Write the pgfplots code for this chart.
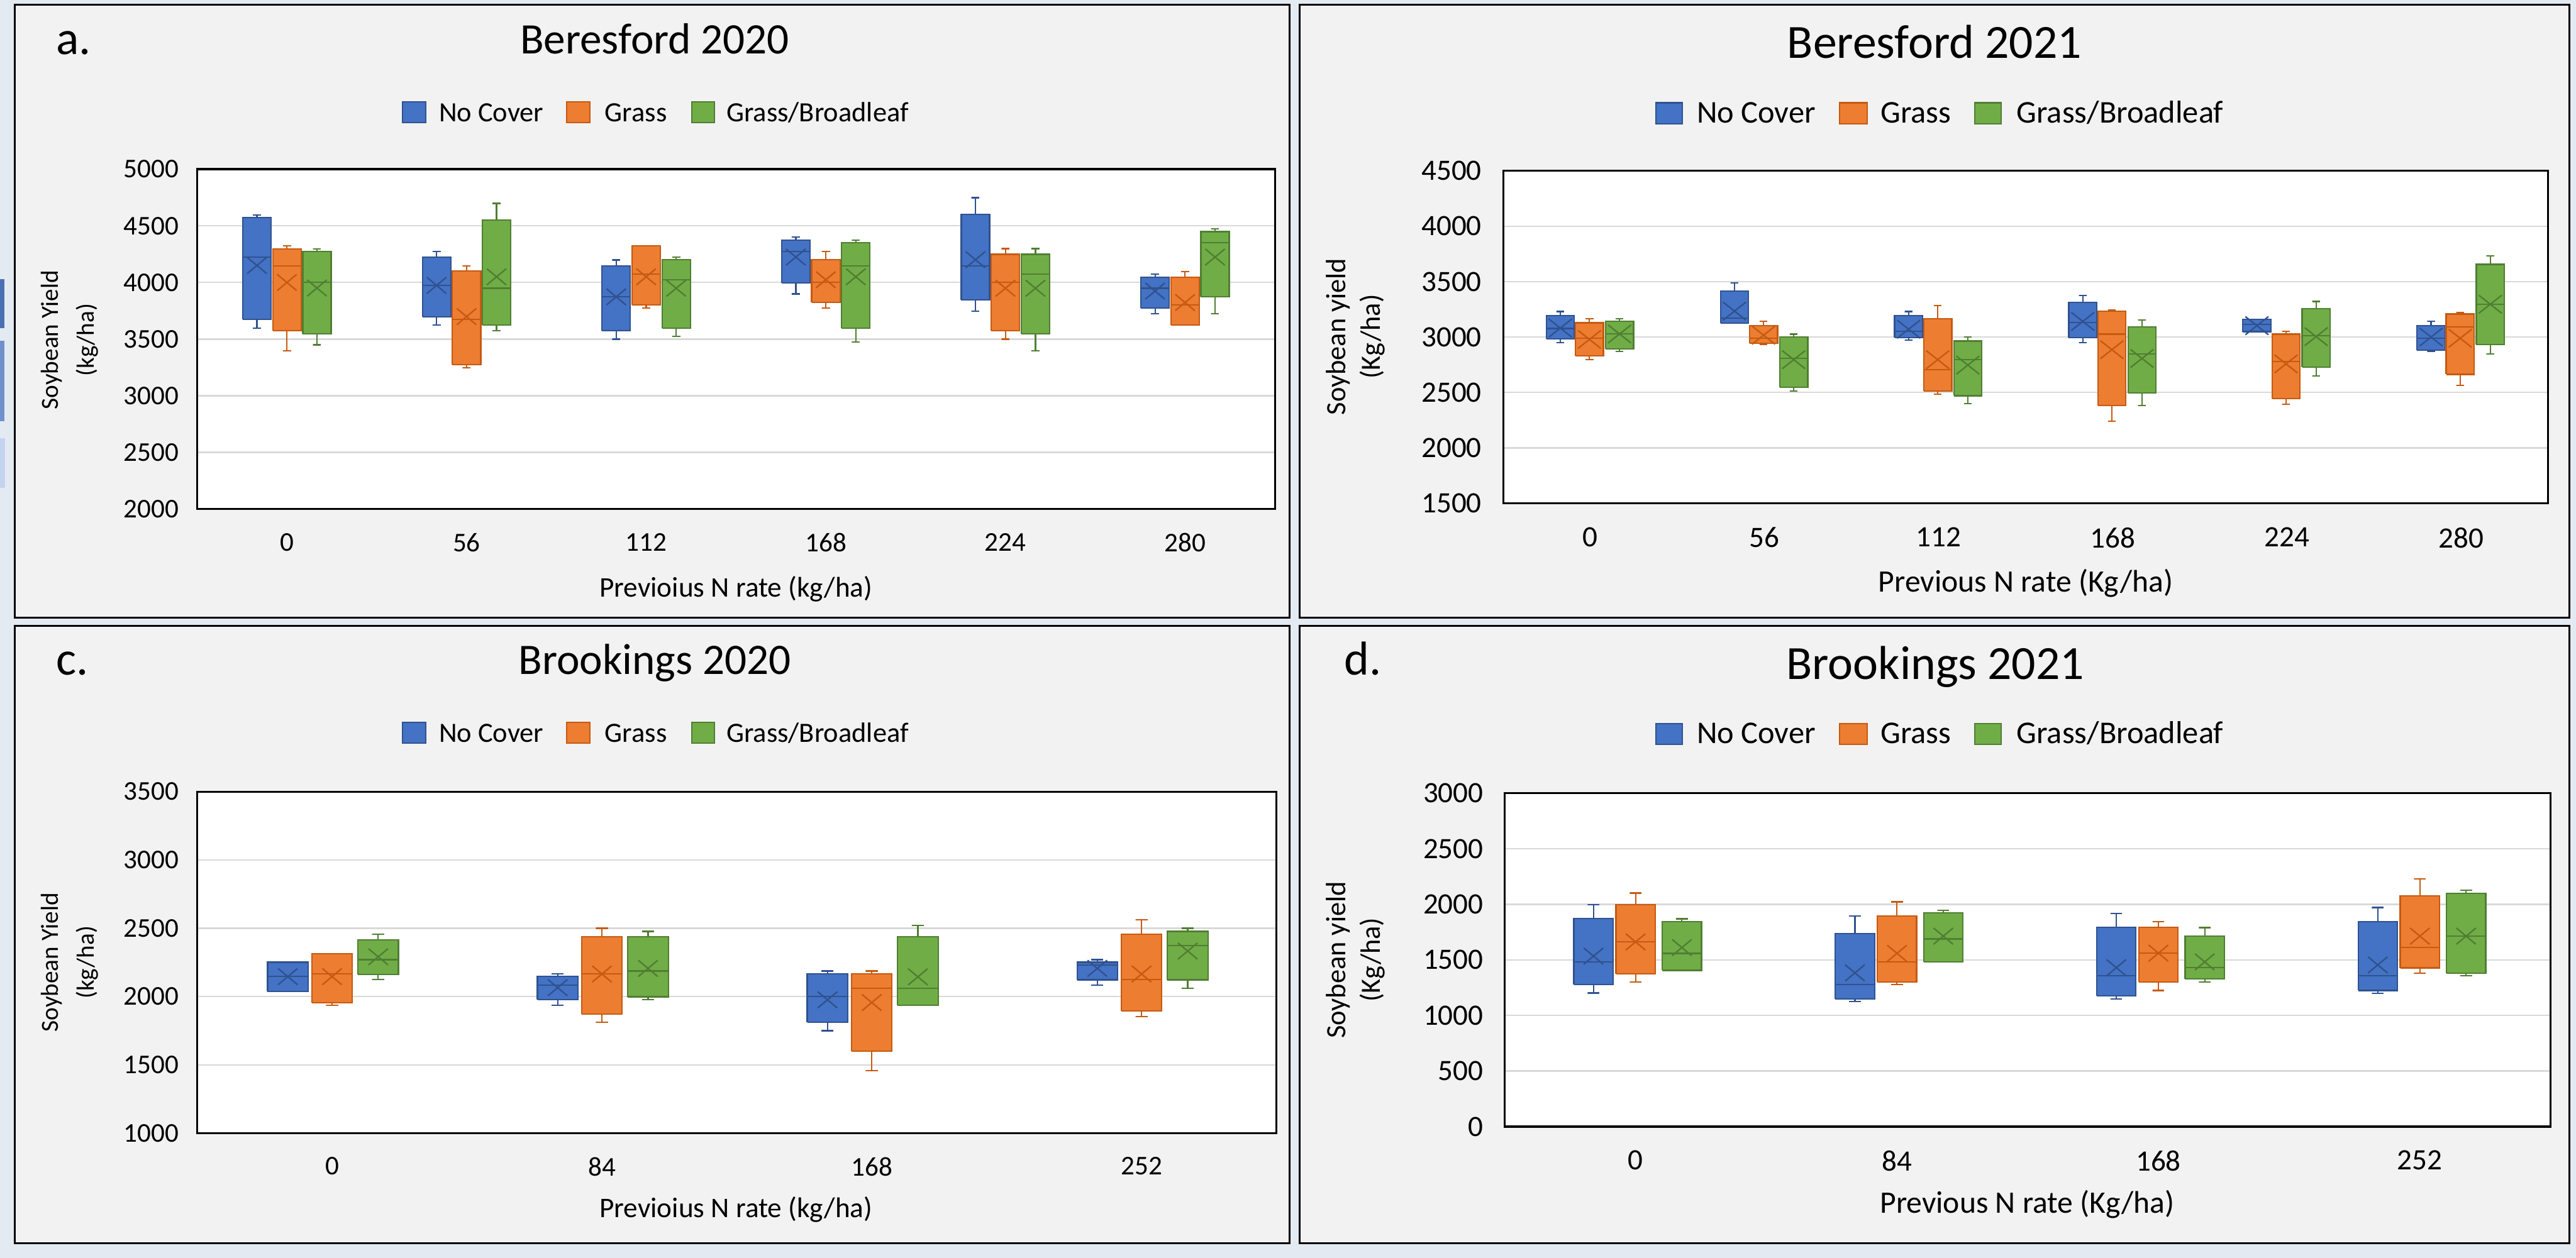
\documentclass[border=0pt]{standalone}
\usepackage{pgfplots}
\pgfplotsset{compat=1.18}
\usepackage{fontspec}
\setmainfont{Carlito}
\definecolor{ncF}{HTML}{4472C4}\definecolor{ncD}{HTML}{2F528F}
\definecolor{grF}{HTML}{ED7D31}\definecolor{grD}{HTML}{C55A11}
\definecolor{gbF}{HTML}{70AD47}\definecolor{gbD}{HTML}{507E32}
\definecolor{outer}{HTML}{E4EAF2}\definecolor{panel}{HTML}{F2F2F2}
\definecolor{gridg}{HTML}{D9D9D9}
\definecolor{sA}{HTML}{4A6FB5}\definecolor{sB}{HTML}{7090CC}\definecolor{sC}{HTML}{C5D3EE}
% box: #1 style, #2 position, #3 lower whisker, #4 lower quartile, #5 median, #6 upper quartile, #7 upper whisker
\newcommand\bp[7]{%
 \pgfmathsetmacro\xa{#2-\bw/2}\pgfmathsetmacro\xb{#2+\bw/2}%
 \pgfmathsetmacro\ca{#2-0.0225}\pgfmathsetmacro\cb{#2+0.0225}%
 \edef\tmp{%
  \noexpand\addplot[#1,fill=none] coordinates {(#2,#6) (#2,#7) (\ca,#7) (\cb,#7)};
  \noexpand\addplot[#1,fill=none] coordinates {(#2,#4) (#2,#3) (\ca,#3) (\cb,#3)};
  \noexpand\addplot[#1] coordinates {(\xa,#4) (\xb,#4) (\xb,#6) (\xa,#6) (\xa,#4)};
  \noexpand\addplot[#1,fill=none] coordinates {(\xa,#5) (\xb,#5)};
 }\tmp}
\pgfplotsset{
  nc/.style={draw=ncD,fill=ncF,line width=0.85pt,mark=none,line join=miter},
  gr/.style={draw=grD,fill=grF,line width=0.85pt,mark=none,line join=miter},
  gb/.style={draw=gbD,fill=gbF,line width=0.85pt,mark=none,line join=miter},
  mnc/.style={only marks,mark=x,mark size=7pt,mark options={draw=ncD,line width=0.9pt,xscale=1.2}},
  mgr/.style={only marks,mark=x,mark size=7pt,mark options={draw=grD,line width=0.9pt,xscale=1.2}},
  mgb/.style={only marks,mark=x,mark size=7pt,mark options={draw=gbD,line width=0.9pt,xscale=1.2}},
  mncb/.style={only marks,mark=x,mark size=7.8pt,mark options={draw=ncD,line width=0.9pt,xscale=1.27}},
  mgrb/.style={only marks,mark=x,mark size=7.8pt,mark options={draw=grD,line width=0.9pt,xscale=1.27}},
  mgbb/.style={only marks,mark=x,mark size=7.8pt,mark options={draw=gbD,line width=0.9pt,xscale=1.27}},
  panel/.style={scale only axis,anchor=south west,
    axis line style={black,line width=1.2pt},
    ymajorgrids,grid style={gridg,line width=0.9pt},
    major tick length=0pt,
    axis background/.style={fill=white},
    /pgf/number format/assume math mode=true,
    /pgf/number format/1000 sep={},
    scaled y ticks=false,
    yticklabel style={inner sep=0pt,xshift=-11pt},
    xticklabel style={inner sep=0pt,yshift=-14.5pt}},
}
\begin{document}
\begin{tikzpicture}
\useasboundingbox (0pt,0pt) rectangle (1568pt,766pt);
\begin{scope}[x=1pt,y=1pt]
\fill[outer] (0,0) rectangle (1568,766);
\fill[sA] (0,566) rectangle (2.5,596);
\fill[sB] (0,509.4) rectangle (2.5,558.4);
\fill[sC] (0,469) rectangle (3,499.3);
\filldraw[fill=panel,draw=black,line width=1.2pt] (9,390) rectangle (785,763);
\filldraw[fill=panel,draw=black,line width=1.2pt] (791,390) rectangle (1564,763);
\filldraw[fill=panel,draw=black,line width=1.2pt] (9,9) rectangle (785,385);
\filldraw[fill=panel,draw=black,line width=1.2pt] (791,9) rectangle (1564,385);
\end{scope}

% ---------- panel a ----------
\def\bw{0.158}
\begin{axis}[panel,at={(120pt,456pt)},width=656pt,height=207pt,
  xmin=-0.5,xmax=5.5,ymin=2000,ymax=5000,ytick={2000,2500,3000,3500,4000,4500,5000},
  xtick={0,1,2,3,4,5},xticklabels={0,56,112,168,224,280},
  tick label style={font=\fontsize{16.5}{19}\selectfont}]
\bp{nc}{-0.167}{3598}{3674}{4224}{4574}{4597}
\bp{gr}{0}{3397}{3573}{4148}{4297}{4324}
\bp{gb}{0.167}{3450}{3548}{4000}{4274}{4297}
\bp{nc}{0.833}{3624}{3697}{3974}{4224}{4274}
\bp{gr}{1}{3248}{3273}{3674}{4100}{4148}
\bp{gb}{1.167}{3573}{3624}{3949}{4551}{4698}
\bp{nc}{1.833}{3500}{3573}{3873}{4148}{4199}
\bp{gr}{2}{3773}{3800}{4075}{4324}{4324}
\bp{gb}{2.167}{3523}{3598}{4024}{4201}{4224}
\bp{nc}{2.833}{3899}{3997}{4274}{4375}{4400}
\bp{gr}{3}{3773}{3823}{4000}{4201}{4274}
\bp{gb}{3.167}{3473}{3598}{4148}{4350}{4375}
\bp{nc}{3.833}{3748}{3848}{4148}{4599}{4748}
\bp{gr}{4}{3500}{3573}{4000}{4249}{4299}
\bp{gb}{4.167}{3399}{3548}{4075}{4249}{4299}
\bp{nc}{4.833}{3724}{3773}{3949}{4047}{4073}
\bp{gr}{5}{3624}{3624}{3800}{4047}{4098}
\bp{gb}{5.167}{3724}{3873}{4350}{4448}{4473}
\addplot[mnc] coordinates {(-0.167,4150) (0.833,3974) (1.833,3873) (2.833,4224) (3.833,4201) (4.833,3924)};
\addplot[mgr] coordinates {(0,4000) (1,3699) (2,4050) (3,4024) (4,3949) (5,3823)};
\addplot[mgb] coordinates {(0.167,3951) (1.167,4050) (2.167,3949) (3.167,4050) (4.167,3949) (5.167,4224)};
\end{axis}

% ---------- panel b ----------
\def\bw{0.161}
\begin{axis}[panel,at={(915pt,459.5pt)},width=636pt,height=202.5pt,
  xmin=-0.5,xmax=5.5,ymin=1500,ymax=4500,ytick={1500,2000,2500,3000,3500,4000,4500},
  xtick={0,1,2,3,4,5},xticklabels={0,56,112,168,224,280},
  tick label style={font=\fontsize{18}{21}\selectfont},
  yticklabel style={xshift=-2pt}]
\bp{nc}{-0.172}{2951}{2985}{3077}{3195}{3231}
\bp{gr}{-0.005}{2796}{2831}{2989}{3129}{3167}
\bp{gb}{0.168}{2871}{2893}{3028}{3141}{3167}
\bp{nc}{0.828}{3124}{3124}{3169}{3414}{3489}
\bp{gr}{0.995}{2934}{2946}{2989}{3105}{3141}
\bp{gb}{1.168}{2511}{2548}{2807}{3000}{3026}
\bp{nc}{1.828}{2974}{2996}{3051}{3195}{3231}
\bp{gr}{1.995}{2486}{2511}{2706}{3167}{3283}
\bp{gb}{2.168}{2398}{2471}{2796}{2964}{3000}
\bp{nc}{2.828}{2949}{2996}{3131}{3311}{3373}
\bp{gr}{2.995}{2241}{2383}{3026}{3234}{3246}
\bp{gb}{3.168}{2383}{2496}{2846}{3092}{3156}
\bp{nc}{3.828}{3049}{3049}{3114}{3159}{3159}
\bp{gr}{3.995}{2396}{2445}{2781}{3026}{3051}
\bp{gb}{4.168}{2651}{2730}{3011}{3257}{3321}
\bp{nc}{4.828}{2869}{2880}{2989}{3105}{3141}
\bp{gr}{4.995}{2563}{2664}{3090}{3208}{3221}
\bp{gb}{5.168}{2846}{2931}{3296}{3656}{3733}
\addplot[mncb] coordinates {(-0.172,3081) (0.828,3234) (1.828,3071) (2.828,3141) (3.828,3103) (4.828,3000)};
\addplot[mgrb] coordinates {(-0.005,2979) (0.995,3017) (1.995,2796) (2.995,2886) (3.995,2758) (4.995,2989)};
\addplot[mgbb] coordinates {(0.168,3028) (1.168,2796) (2.168,2747) (3.168,2807) (4.168,3004) (5.168,3296)};
\end{axis}

% ---------- panel c ----------
\def\bw{0.15}
\begin{axis}[panel,at={(120pt,76pt)},width=657pt,height=208pt,
  xmin=-0.5,xmax=3.5,ymin=1000,ymax=3500,ytick={1000,1500,2000,2500,3000,3500},
  xtick={0,1,2,3},xticklabels={0,84,168,252},
  tick label style={font=\fontsize{16.5}{19}\selectfont}]
\bp{nc}{-0.164}{2039}{2039}{2146}{2251}{2251}
\bp{gr}{0}{1937}{1956}{2165}{2313}{2313}
\bp{gb}{0.171}{2124}{2161}{2270}{2416}{2457}
\bp{nc}{0.836}{1937}{1976}{2083}{2146}{2165}
\bp{gr}{1}{1811}{1873}{2165}{2438}{2500}
\bp{gb}{1.171}{1976}{1998}{2187}{2438}{2477}
\bp{nc}{1.836}{1750}{1811}{2000}{2165}{2187}
\bp{gr}{2}{1456}{1602}{2061}{2165}{2187}
\bp{gb}{2.171}{1937}{1937}{2061}{2437}{2520}
\bp{nc}{2.836}{2083}{2122}{2229}{2251}{2270}
\bp{gr}{3}{1852}{1895}{2124}{2457}{2562}
\bp{gb}{3.171}{2061}{2122}{2375}{2477}{2500}
\addplot[mnc] coordinates {(-0.164,2146) (0.836,2065) (1.836,1976) (2.836,2206)};
\addplot[mgr] coordinates {(0,2146) (1,2165) (2,1956) (3,2165)};
\addplot[mgb] coordinates {(0.171,2291) (1.171,2206) (2.171,2144) (3.171,2333)};
\end{axis}

% ---------- panel d ----------
\def\bw{0.15}
\begin{axis}[panel,at={(916pt,80pt)},width=636.5pt,height=203pt,
  xmin=-0.5,xmax=3.5,ymin=0,ymax=3000,ytick={0,500,1000,1500,2000,2500,3000},
  xtick={0,1,2,3},xticklabels={0,84,168,252},
  tick label style={font=\fontsize{18}{21}\selectfont},
  yticklabel style={xshift=-2pt}]
\bp{nc}{-0.161}{1202}{1277}{1484}{1874}{1998}
\bp{gr}{0}{1302}{1376}{1662}{1998}{2102}
\bp{gb}{0.177}{1406}{1406}{1559}{1845}{1870}
\bp{nc}{0.839}{1124}{1148}{1279}{1739}{1895}
\bp{gr}{1}{1277}{1302}{1484}{1895}{2023}
\bp{gb}{1.177}{1484}{1484}{1689}{1922}{1947}
\bp{nc}{1.839}{1148}{1175}{1356}{1793}{1920}
\bp{gr}{2}{1225}{1302}{1561}{1793}{1843}
\bp{gb}{2.177}{1302}{1329}{1430}{1714}{1791}
\bp{nc}{2.839}{1200}{1225}{1356}{1845}{1971}
\bp{gr}{3}{1379}{1428}{1611}{2075}{2228}
\bp{gb}{3.177}{1356}{1379}{1714}{2100}{2125}
\addplot[mnc] coordinates {(-0.161,1534) (0.839,1383) (1.839,1430) (2.839,1455)};
\addplot[mgr] coordinates {(0,1662) (1,1559) (2,1561) (3,1714)};
\addplot[mgb] coordinates {(0.177,1611) (1.177,1714) (2.177,1482) (3.177,1714)};
\end{axis}

\begin{scope}[x=1pt,y=1pt]
% ---------- titles, letters ----------
\node[anchor=base,inner sep=0pt,font=\fontsize{26.5}{30}\selectfont] at (398.5,733.4) {Beresford 2020};
\node[anchor=base,inner sep=0pt,font=\fontsize{29}{34}\selectfont] at (1177.5,730.4) {Beresford 2021};
\node[anchor=base,inner sep=0pt,font=\fontsize{26.5}{30}\selectfont] at (398.5,355.4) {Brookings 2020};
\node[anchor=base,inner sep=0pt,font=\fontsize{29}{34}\selectfont] at (1178,352.4) {Brookings 2021};
\node[anchor=base west,inner sep=0pt,font=\fontsize{29}{34}\selectfont] at (34,733) {a.};
\node[anchor=base west,inner sep=0pt,font=\fontsize{29}{34}\selectfont] at (34,355) {c.};
\node[anchor=base west,inner sep=0pt,font=\fontsize{29}{34}\selectfont] at (818,355) {d.};
% ---------- legends ----------
\foreach \dy in {0,378}{
\filldraw[fill=ncF,draw=ncD,line width=0.8pt] (245,691.4-\dy) rectangle (259,704-\dy);
\filldraw[fill=grF,draw=grD,line width=0.8pt] (345,691.4-\dy) rectangle (359,704-\dy);
\filldraw[fill=gbF,draw=gbD,line width=0.8pt] (421,691.4-\dy) rectangle (435,704-\dy);
\node[anchor=base west,inner sep=0pt,font=\fontsize{17}{20}\selectfont] at (267,692-\dy) {No Cover};
\node[anchor=base west,inner sep=0pt,font=\fontsize{17}{20}\selectfont] at (368,692-\dy) {Grass};
\node[anchor=base west,inner sep=0pt,font=\fontsize{17}{20}\selectfont] at (442,692-\dy) {Grass/Broadleaf};
\filldraw[fill=ncF,draw=ncD,line width=0.8pt] (1008,690.6-\dy) rectangle (1024,703.4-\dy);
\filldraw[fill=grF,draw=grD,line width=0.8pt] (1119.6,690.6-\dy) rectangle (1136.5,703.4-\dy);
\filldraw[fill=gbF,draw=gbD,line width=0.8pt] (1202,690.6-\dy) rectangle (1218,703.4-\dy);
\node[anchor=base west,inner sep=0pt,font=\fontsize{19.3}{23}\selectfont] at (1032.7,691.2-\dy) {No Cover};
\node[anchor=base west,inner sep=0pt,font=\fontsize{19.3}{23}\selectfont] at (1144.5,691.2-\dy) {Grass};
\node[anchor=base west,inner sep=0pt,font=\fontsize{19.3}{23}\selectfont] at (1227.3,691.2-\dy) {Grass/Broadleaf};
}
% ---------- axis titles ----------
\node[anchor=base,inner sep=0pt,font=\fontsize{17.3}{20}\selectfont] at (448,402.5) {Previoius N rate (kg/ha)};
\node[anchor=base,inner sep=0pt,font=\fontsize{19}{23}\selectfont] at (1233,405.7) {Previous N rate (Kg/ha)};
\node[anchor=base,inner sep=0pt,font=\fontsize{17.3}{20}\selectfont] at (448,24.5) {Previoius N rate (kg/ha)};
\node[anchor=base,inner sep=0pt,font=\fontsize{19}{23}\selectfont] at (1234,27.5) {Previous N rate (Kg/ha)};
\node[rotate=90,align=center,font=\fontsize{15}{22}\selectfont] at (42.5,559) {Soybean Yield\\(kg/ha)};
\node[rotate=90,align=center,font=\fontsize{17}{21}\selectfont] at (825,561) {Soybean yield\\(Kg/ha)};
\node[rotate=90,align=center,font=\fontsize{15}{22}\selectfont] at (42.5,180) {Soybean Yield\\(kg/ha)};
\node[rotate=90,align=center,font=\fontsize{17}{21}\selectfont] at (825,181.5) {Soybean yield\\(Kg/ha)};
\end{scope}
\end{tikzpicture}
\end{document}
